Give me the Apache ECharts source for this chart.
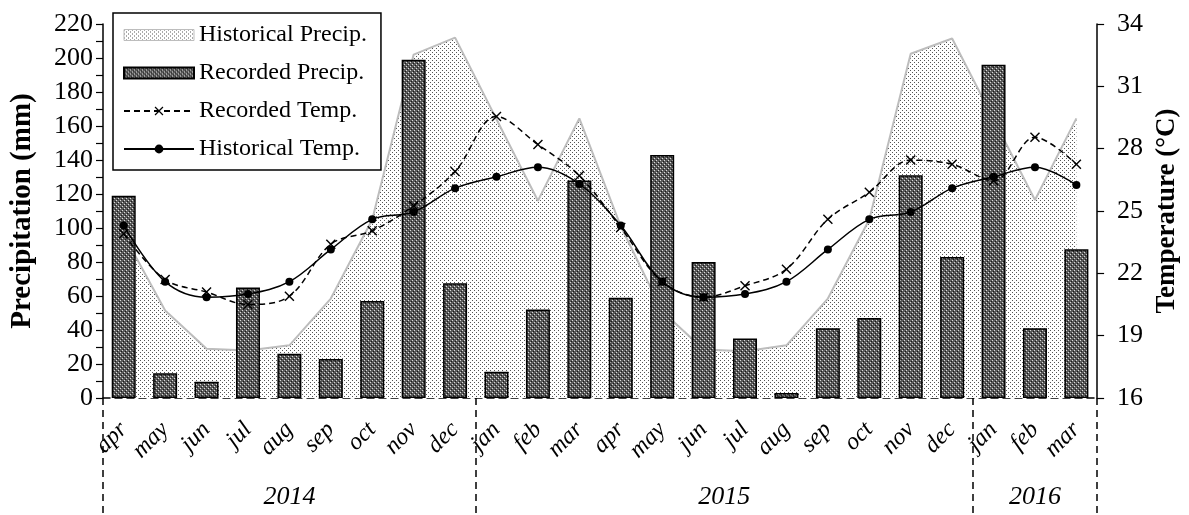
<!DOCTYPE html>
<html>
<head>
<meta charset="utf-8">
<script src="https://cdn.jsdelivr.net/npm/echarts@6/dist/echarts.min.js"></script>
<style>
  html, body { margin: 0; padding: 0; background: #fff; }
  #chart { width: 1189px; height: 515px; }
</style>
</head>
<body>
<div id="chart"></div>
<script>
// Monthly climate series, April 2014 – March 2016
const months = ['apr','may','jun','jul','aug','sep','oct','nov','dec',
                'jan','feb','mar','apr','may','jun','jul','aug','sep','oct','nov','dec',
                'jan','feb','mar'];
const years = ['2014', '2015', '2016'];
const monthsPerYear = [9, 12, 3];

// Precipitation (mm)
const historicalPrecip = [96, 51.5, 29, 28, 31, 58.5, 105, 202, 212, 164, 116, 164.5,
                          101, 51, 28.5, 27.5, 31, 58.5, 105, 202.5, 211.5, 164, 116.5, 164.5];
const recordedPrecip = [119, 14.5, 9.5, 65, 26, 23, 57, 199, 67.5, 15.5, 52, 128,
                        59, 143, 80, 35, 3, 41, 47, 131, 83, 196, 41, 87.5];

// Temperature (°C)
const recordedTemp = [23.9, 21.7, 21.1, 20.5, 20.9, 23.4, 24.05, 25.25, 26.9, 29.55, 28.2, 26.7,
                      24.2, 21.6, 20.85, 21.4, 22.2, 24.6, 25.9, 27.45, 27.25, 26.45, 28.55, 27.25];
const historicalTemp = [24.3, 21.6, 20.85, 21.0, 21.6, 23.15, 24.6, 24.95, 26.1, 26.65, 27.1, 26.3,
                        24.3, 21.6, 20.85, 21.0, 21.6, 23.15, 24.6, 24.95, 26.1, 26.65, 27.1, 26.25];

// Axis scales
const precipAxis = { min: 0, max: 220, step: 20 };
const tempAxis = { min: 16, max: 34, step: 3 };

const FONT = '"Liberation Serif", "Times New Roman", serif';

// Small repeating canvas tiles used as fills
function tile(w, h, bg, pixels) {
  const c = document.createElement('canvas');
  c.width = w; c.height = h;
  const g = c.getContext('2d');
  g.fillStyle = bg; g.fillRect(0, 0, w, h);
  pixels.forEach(([x, y, col]) => { g.fillStyle = col; g.fillRect(x, y, 1, 1); });
  return { image: c, repeat: 'repeat' };
}
const dotFill = tile(4, 4, '#ffffff', [[0, 0, '#555'], [2, 2, '#555']]);
const hatchFill = tile(4, 4, '#5a5a5a', [[0, 0, '#dcdcdc'], [2, 2, '#dcdcdc'], [1, 3, '#1a1a1a'], [3, 1, '#1a1a1a']]);

// Year groupings along the month axis
const yearEdges = [0];
monthsPerYear.forEach(n => yearEdges.push(yearEdges[yearEdges.length - 1] + n));
const yearMids = years.map((_, i) => (yearEdges[i] + yearEdges[i + 1]) / 2);

const crossMark = 'path://M1,0L5,4L9,0L10,1L6,5L10,9L9,10L5,6L1,10L0,9L4,5L0,1Z';

const chart = echarts.init(document.getElementById('chart'), null, { renderer: 'canvas' });

chart.setOption({
  animation: false,
  backgroundColor: '#fff',
  textStyle: { fontFamily: FONT, color: '#000' },
  grid: { left: 103, right: 86, top: 24, bottom: 117 },
  legend: {
    orient: 'vertical',
    left: 113, top: 13,
    padding: [10, 14, 9, 10],
    itemGap: 14,
    itemWidth: 70, itemHeight: 11,
    backgroundColor: '#fff',
    borderColor: '#000', borderWidth: 1.5,
    textStyle: { fontFamily: FONT, fontSize: 24, color: '#000' },
    data: [
      { name: 'Historical Precip.', icon: 'rect',
        itemStyle: { color: dotFill, borderColor: '#bdbdbd', borderWidth: 1 } },
      { name: 'Recorded Precip.', icon: 'rect' },
      { name: 'Recorded Temp.' },
      { name: 'Historical Temp.' }
    ]
  },
  xAxis: [
    {
      type: 'category',
      data: months,
      boundaryGap: true,
      axisLine: { show: false },
      axisTick: { show: false },
      axisLabel: {
        interval: 0, rotate: 45, margin: 28,
        fontFamily: FONT, fontSize: 24, fontStyle: 'italic', color: '#000'
      }
    },
    {
      type: 'value',
      position: 'bottom',
      min: 0, max: months.length,
      splitLine: { show: false },
      axisLine: { show: true, lineStyle: { color: '#000', width: 1.5, type: [7, 5] } },
      axisTick: {
        show: true, customValues: yearEdges, length: 117,
        lineStyle: { color: '#000', width: 1.5, type: [7, 5] }
      },
      axisLabel: {
        customValues: yearMids, margin: 86,
        fontFamily: FONT, fontSize: 26, fontStyle: 'italic', color: '#000',
        formatter: v => {
          const i = yearMids.findIndex(m => Math.abs(m - v) < 1e-6);
          return i >= 0 ? years[i] : '';
        }
      }
    }
  ],
  yAxis: [
    {
      type: 'value',
      min: precipAxis.min, max: precipAxis.max, interval: precipAxis.step,
      name: 'Precipitation (mm)',
      nameLocation: 'middle', nameGap: 66, nameRotate: 90,
      nameTextStyle: { fontFamily: FONT, fontSize: 29, fontWeight: 'bold', color: '#000' },
      axisLine: { show: true, lineStyle: { color: '#000', width: 1.5 } },
      axisTick: { show: true, length: 7, lineStyle: { color: '#000', width: 1.2 } },
      minorTick: { show: true, splitNumber: 2, length: 7, lineStyle: { color: '#000', width: 1.2 } },
      splitLine: { show: false },
      minorSplitLine: { show: false },
      axisLabel: { margin: 10, fontFamily: FONT, fontSize: 26, color: '#000' }
    },
    {
      type: 'value',
      position: 'right',
      min: tempAxis.min, max: tempAxis.max, interval: tempAxis.step,
      name: 'Temperature (°C)',
      nameLocation: 'middle', nameGap: 56, nameRotate: 90,
      nameTextStyle: { fontFamily: FONT, fontSize: 27, fontWeight: 'bold', color: '#000' },
      axisLine: { show: true, lineStyle: { color: '#000', width: 1.5 } },
      axisTick: { show: true, length: 7, lineStyle: { color: '#000', width: 1.2 } },
      splitLine: { show: false },
      axisLabel: { margin: 20, fontFamily: FONT, fontSize: 26, color: '#000' }
    }
  ],
  series: [
    {
      name: 'Historical Precip.',
      type: 'line',
      data: historicalPrecip,
      xAxisIndex: 0, yAxisIndex: 0,
      symbol: 'none',
      lineStyle: { color: '#bdbdbd', width: 2 },
      itemStyle: { color: '#bdbdbd' },
      areaStyle: { color: dotFill, opacity: 1 },
      z: 1
    },
    {
      name: 'Recorded Precip.',
      type: 'bar',
      data: recordedPrecip,
      xAxisIndex: 0, yAxisIndex: 0,
      barWidth: 24,
      itemStyle: { color: hatchFill, borderColor: '#000', borderWidth: 1.5 },
      z: 2
    },
    {
      name: 'Recorded Temp.',
      type: 'line',
      data: recordedTemp,
      xAxisIndex: 0, yAxisIndex: 1,
      smooth: 0.35,
      symbol: crossMark, symbolSize: 10,
      lineStyle: { color: '#000', width: 1.5, type: [6, 4] },
      itemStyle: { color: '#000' },
      z: 3
    },
    {
      name: 'Historical Temp.',
      type: 'line',
      data: historicalTemp,
      xAxisIndex: 0, yAxisIndex: 1,
      smooth: 0.35,
      symbol: 'circle', symbolSize: 8,
      lineStyle: { color: '#000', width: 1.5 },
      itemStyle: { color: '#000' },
      z: 4
    }
  ]
});
</script>
</body>
</html>
